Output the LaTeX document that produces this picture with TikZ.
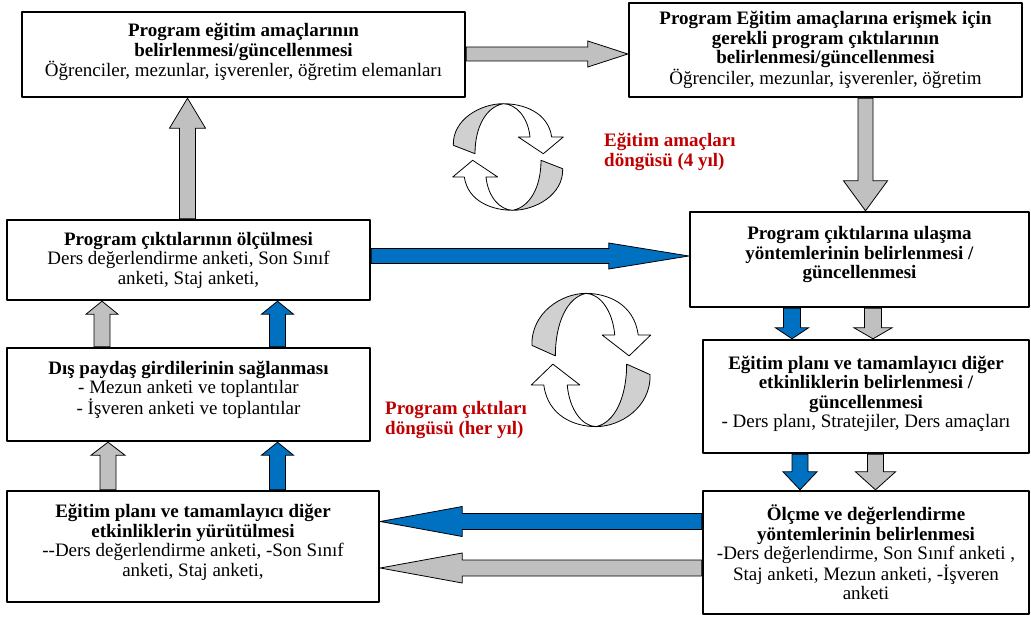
\documentclass[tikz,border=0pt]{standalone}
\usepackage{fontspec}
\setmainfont{Liberation Serif}
\usepackage{tikz}
\usetikzlibrary{calc}
\definecolor{agray}{HTML}{C0C0C0}
\definecolor{ablue}{HTML}{0070C0}
\definecolor{rgray}{HTML}{D0D0D0}
\definecolor{cred}{HTML}{C00000}
\tikzset{
  box/.style       = {draw, line width=2.4pt, fill=white, align=center, inner sep=2pt,
                      font=\fontsize{19}{19.5}\selectfont},
  garrow/.style    = {draw, line width=0.8pt, line join=miter, fill=agray},
  barrow/.style    = {garrow, fill=ablue},
  ringback/.style  = {draw, line width=0.8pt, fill=rgray},
  ringfront/.style = {draw, line width=0.8pt, fill=white},
  cyclbl/.style    = {text=cred, font=\bfseries\fontsize{19}{20}\selectfont,
                      align=left, anchor=west, inner sep=0pt},
}
% pushes the text of a box up by half of #1
\newcommand{\lift}[1]{\rule[-#1pt]{0pt}{0pt}}
% block arrow: style, from, to, shaft half width, head half width, head length
\newcommand{\blockarrow}[6]{%
  \coordinate (ba-s) at (#2);
  \coordinate (ba-e) at (#3);
  \coordinate (ba-b) at ($(ba-e)!#6pt!(ba-s)$);
  \draw[#1] ($(ba-s)!#4pt!90:(ba-e)$) -- ($(ba-b)!#4pt!90:(ba-e)$)
    -- ($(ba-b)!#5pt!90:(ba-e)$) -- (ba-e) -- ($(ba-b)!#5pt!-90:(ba-e)$)
    -- ($(ba-b)!#4pt!-90:(ba-e)$) -- ($(ba-s)!#4pt!-90:(ba-e)$) -- cycle;}
% one half of the cycle symbol, the other half is this turned by 180
\newcommand{\ringhalf}{%
  \draw[ringback] (-54.7,-11.7) .. controls (-55.5,-38) and (-27,-53.3) .. (-4.7,-53.3)
    .. controls (-22,-50) and (-33,-30) .. (-33,-3.3) -- cycle;
  \draw[ringfront] (-4.7,-53.3) .. controls (15,-53.3) and (40,-45) .. (43.7,-20)
    -- (55.3,-20) -- (35.3,-3.3) -- (10.3,-20) -- (22,-20)
    .. controls (20,-40) and (8,-53) .. (-4.7,-53.3) -- cycle;}

\begin{document}
\begin{tikzpicture}[x=1pt, y=-1pt, line join=round]
  \useasboundingbox (0,0) rectangle (1031,618);
  % boxes
  \node[box, minimum width=443, minimum height=85] (amac) at (243.5,54.5)
    {\textbf{Program eğitim amaçlarının}\\\textbf{belirlenmesi/güncellenmesi}\\
     Öğrenciler, mezunlar, işverenler, öğretim elemanları\lift{9}};
  \node[box, minimum width=393, minimum height=94] (cikti) at (825.5,50)
    {\textbf{Program Eğitim amaçlarına erişmek için}\\\textbf{gerekli program çıktılarının}\\
     \textbf{belirlenmesi/güncellenmesi}\\Öğrenciler, mezunlar, işverenler, öğretim};
  \node[box, minimum width=363, minimum height=80] (olcum) at (188.5,260)
    {\textbf{Program çıktılarının ölçülmesi}\\Ders değerlendirme anketi, Son Sınıf\\anketi, Staj anketi,};
  \node[box, minimum width=363, minimum height=93] (paydas) at (188.5,394.5)
    {\textbf{Dış paydaş girdilerinin sağlanması}\\- Mezun anketi ve toplantılar\\
     - İşveren anketi ve toplantılar\lift{14}};
  \node[box, minimum width=372, minimum height=111] (yurut) at (193,546.5)
    {\textbf{Eğitim planı ve tamamlayıcı diğer}\\\textbf{etkinliklerin yürütülmesi}\\
     -{}-Ders değerlendirme anketi, -Son Sınıf\\anketi, Staj anketi,\lift{12}};
  \node[box, minimum width=339, minimum height=95] (yontem) at (859.5,259.5)
    {\textbf{Program çıktılarına ulaşma}\\\textbf{yöntemlerinin belirlenmesi /}\\
     \textbf{güncellenmesi}\lift{14}};
  \node[box, minimum width=326, minimum height=113] (plan) at (866,396.5)
    {\textbf{Eğitim planı ve tamamlayıcı diğer}\\\textbf{etkinliklerin belirlenmesi /}\\
     \textbf{güncellenmesi}\\- Ders planı, Stratejiler, Ders amaçları\lift{9}};
  \node[box, minimum width=326, minimum height=123] (olcme) at (866,552.5)
    {\textbf{Ölçme ve değerlendirme}\\\textbf{yöntemlerinin belirlenmesi}\\
     -Ders değerlendirme, Son Sınıf anketi ,\\Staj anketi, Mezun anketi, -İşveren\\anketi};
  % arrows
  \blockarrow{garrow}{$(amac.east)+(0,-0.5)$}{$(cikti.west)+(0,4)$}{7}{13}{40}
  \blockarrow{garrow}{$(cikti.south)+(40,0)$}{$(yontem.north)+(6,0)$}{7.5}{22}{30}
  \blockarrow{garrow}{$(olcum.north)+(-1,0)$}{$(amac.south)+(-56,0)$}{8}{18}{30}
  \blockarrow{barrow}{$(olcum.east)+(0,-4)$}{$(yontem.west)+(0,-3.5)$}{7.5}{13}{80}
  \blockarrow{garrow}{$(paydas.north)+(-86.5,0)$}{$(olcum.south)+(-86.5,0)$}{8}{16}{13}
  \blockarrow{barrow}{$(paydas.north)+(89,0)$}{$(olcum.south)+(89,0)$}{8}{16}{13}
  \blockarrow{garrow}{$(yurut.north)+(-85,0)$}{$(paydas.south)+(-80.5,0)$}{8}{17}{13}
  \blockarrow{barrow}{$(yurut.north)+(84.5,0)$}{$(paydas.south)+(89,0)$}{8}{16}{13}
  \blockarrow{barrow}{$(yontem.south)+(-67.5,0)$}{$(plan.north)+(-74,0)$}{8.5}{16.5}{11}
  \blockarrow{garrow}{$(yontem.south)+(13.5,0)$}{$(plan.north)+(7,0)$}{8.5}{19}{11}
  \blockarrow{barrow}{$(plan.south)+(-66,0)$}{$(olcme.north)+(-66,0)$}{8}{17}{18}
  \blockarrow{garrow}{$(plan.south)+(9.5,0)$}{$(olcme.north)+(9.5,0)$}{8}{20}{18}
  \blockarrow{barrow}{$(olcme.west)+(0,-31)$}{$(yurut.east)+(0,-25)$}{8}{15}{82}
  \blockarrow{garrow}{$(olcme.west)+(0,15.5)$}{$(yurut.east)+(0,21.5)$}{8}{15}{82}
  % cycle symbols
  \begin{scope}[shift={(508,157)}]
    \ringhalf
    \begin{scope}[rotate=180]\ringhalf\end{scope}
  \end{scope}
  \begin{scope}[shift={(591,360)}, xscale=1.08, yscale=1.25]
    \ringhalf
    \begin{scope}[rotate=180]\ringhalf\end{scope}
  \end{scope}
  % cycle labels
  \node[cyclbl] (amaclbl) at (604,152) {Eğitim amaçları\\döngüsü (4 yıl)};
  \node[cyclbl] (ciktilbl) at (385,420) {Program çıktıları\\döngüsü (her yıl)};
\end{tikzpicture}
\end{document}
